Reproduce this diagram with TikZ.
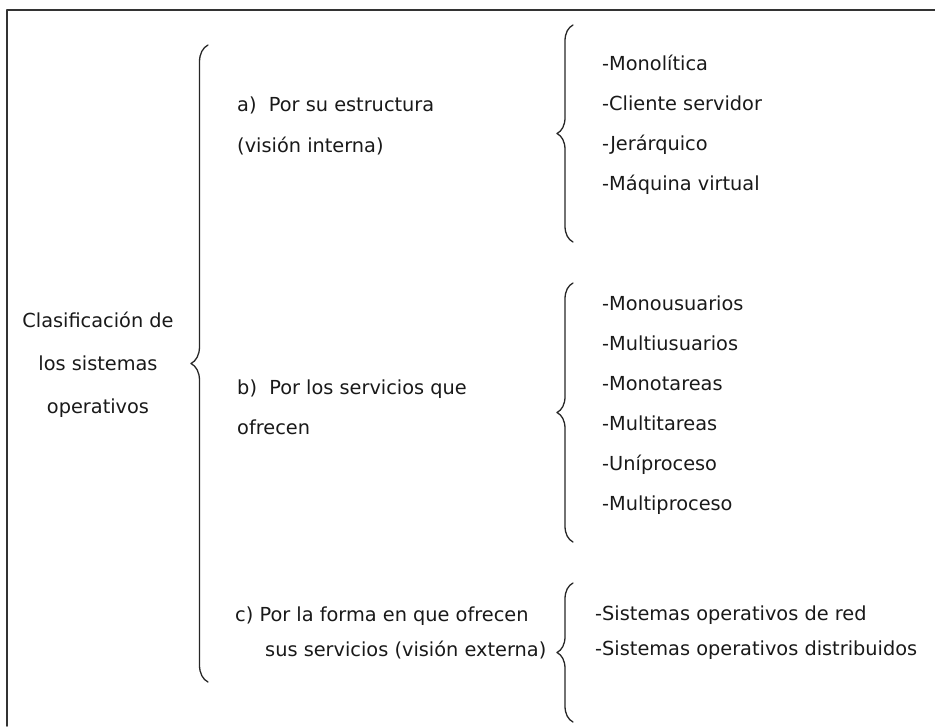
\documentclass[tikz,border=0pt]{standalone}
\usepackage{fontspec}
\setmainfont{DejaVu Sans}
\usetikzlibrary{decorations.pathreplacing}
\begin{document}
\begin{tikzpicture}[x=0.03cm, y=-0.03cm, font=\fontsize{16.5}{34}\selectfont, line join=round, line cap=round,
	txt/.style={anchor=west, inner sep=0pt, text=black!90},
	item/.style={txt, text height=12pt, text depth=3pt},
	llave/.style={decorate, decoration={brace, amplitude=#1}, draw=black!85, line width=1.1pt}]
		\useasboundingbox (0,0) rectangle (935,726);
		\draw[black!80, line width=1.3pt] (935,10) -- (7,10) -- (7,726);
		\path (208,682) coordinate (P1) (208,45) coordinate (P2) %llaves
			(573,242) coordinate (A1) (573,25) coordinate (A2)
			(573,542) coordinate (B1) (573,283) coordinate (B2)
			(573,722) coordinate (C1) (573,583) coordinate (C2);
		\draw[llave=0.51cm] (P1) -- (P2);
		\foreach \x in {A,B,C}
			{\draw[llave=0.48cm] (\x1) -- (\x2);}
		\node[txt, anchor=center, align=center, font=\fontsize{16.5}{36.5}\selectfont] (clas) at (98,365) {Clasificación de\\los sistemas\\operativos};
		\node[txt, align=left, font=\fontsize{16.5}{35.5}\selectfont] (a) at (237,126) {a)\ \ Por su estructura\\(visión interna)};
		\node[txt, align=left] (b) at (237,407) {b)\ \ Por los servicios que\\ofrecen};
		\node[txt, align=left, font=\fontsize{16.5}{30}\selectfont] (c) at (235,633) {c) Por la forma en que ofrecen\\\hspace*{0.9cm}sus servicios (visión externa)};
		\foreach \t [count=\i] in {-Monolítica,-Cliente servidor,-Jerárquico,-Máquina virtual}
			{\node[item] (a\i) at (602,25+40*\i) {\t};}
		\foreach \t [count=\i] in {-Monousuarios,-Multiusuarios,-Monotareas,-Multitareas,-Uníproceso,-Multiproceso}
			{\node[item] (b\i) at (602,265+40*\i) {\t};}
		\node[item] (c1) at (595,615) {-Sistemas operativos de red};
		\node[item] (c2) at (595,650) {-Sistemas operativos distribuidos};
\end{tikzpicture}
\end{document}
